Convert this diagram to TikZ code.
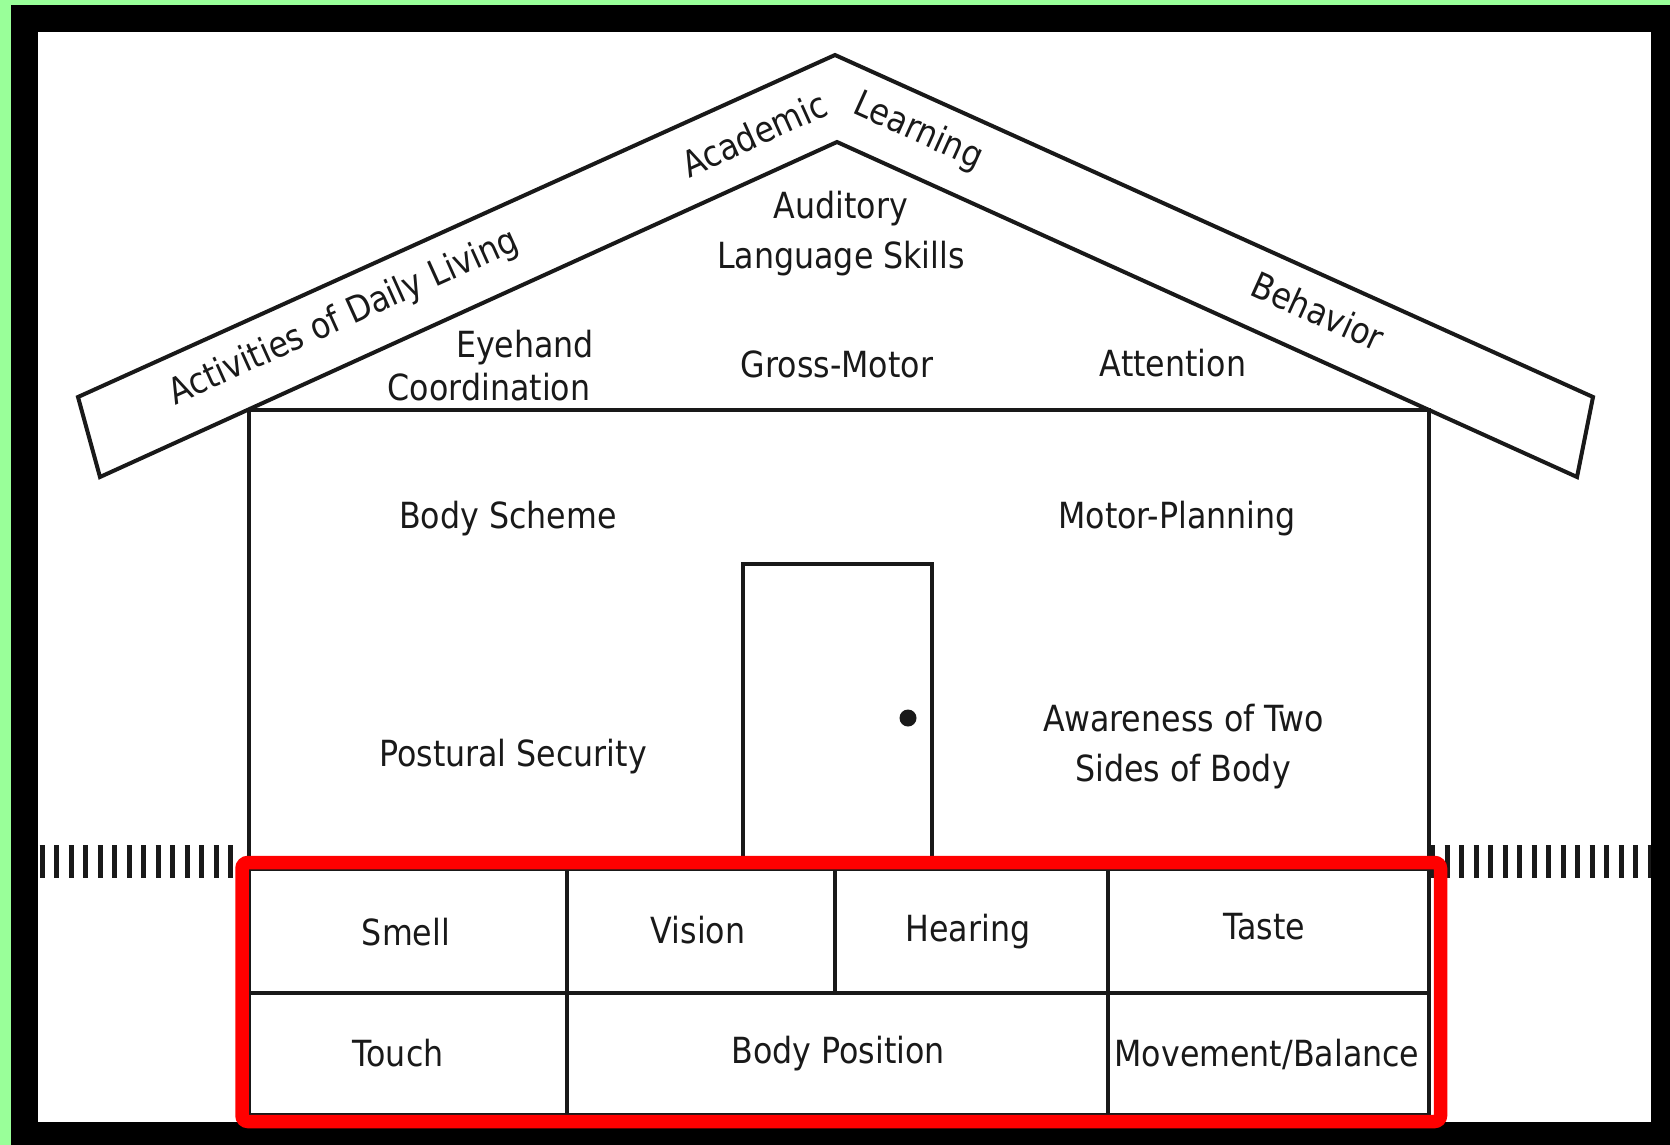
\documentclass[tikz,border=0pt]{standalone}
\usepackage{fontspec}
\setmainfont{DejaVu Sans}[FakeStretch=0.88]
\definecolor{framegreen}{RGB}{153,255,153}
\definecolor{inkgray}{RGB}{25,25,25}
\newcommand\lblfont{\fontsize{36}{43}\selectfont}
\begin{document}
\begin{tikzpicture}[x=1pt,y=-1pt,
  houseline/.style={draw=inkgray, line width=4pt, line join=miter},
  cellline/.style={draw=inkgray, line width=3.5pt},
  groundbars/.style={draw=inkgray, line width=33pt, dash pattern=on 5pt off 9.5pt},
  redframe/.style={draw=red, line width=13.5pt, rounded corners=6pt},
  lbl/.style={font=\lblfont, text=inkgray, inner sep=0pt, anchor=base, align=center},
  rooflbl/.style={font=\lblfont, text=inkgray, inner sep=0pt, anchor=center}]
\useasboundingbox (0,0) rectangle (1670,1145);
% frame
\fill[framegreen] (0,0) rectangle (1670,1145);
\fill[black] (11,5) rectangle (1670,1145);
\fill[white] (38,32) rectangle (1651,1122);
% ground
\draw[groundbars] (39.5,861.5) -- (236,861.5);
\draw[groundbars] (1430,861.5) -- (1651,861.5);
% roof
\draw[houseline, fill=white] (78,397) -- (835,55) -- (1593,397) -- (1577,477) -- (837,142) -- (100,477) -- cycle;
% house walls
\draw[houseline] (249,869) -- (249,410) -- (1429,410) -- (1429,869);
% door
\draw[houseline] (743,869) -- (743,564) -- (932,564) -- (932,869);
\fill[inkgray] (908,718) circle (8.5);
% senses table
\draw[cellline] (249,869) rectangle (1429,1115);
\draw[cellline] (249,993) -- (1429,993);
\draw[cellline] (567,869) -- (567,1115);
\draw[cellline] (835,869) -- (835,993);
\draw[cellline] (1108,869) -- (1108,1115);
\draw[redframe] (242,862.5) rectangle (1440.5,1121.5);
% roof labels
\node[rooflbl, rotate=24.3] (adl) at (344,318) {Activities of Daily Living};
\node[rooflbl, rotate=24.3] (acad) at (754,134) {Academic};
\node[rooflbl, rotate=-24.3] (learn) at (918,132) {Learning};
\node[rooflbl, rotate=-24.3] (behav) at (1318,311) {Behavior};
% attic labels
\node[lbl] (aud) at (841,218) {Auditory};
\node[lbl] (lang) at (841,268) {Language Skills};
\node[lbl] (eye) at (525,357) {Eyehand};
\node[lbl] (coord) at (489,400) {Coordination};
\node[lbl] (gross) at (837,377) {Gross-Motor};
\node[lbl] (attn) at (1173,376) {Attention};
% house labels
\node[lbl] (body) at (508,528) {Body Scheme};
\node[lbl] (motor) at (1177,528) {Motor-Planning};
\node[lbl] (post) at (513,766) {Postural Security};
\node[lbl] (aware) at (1184,731) {Awareness of Two};
\node[lbl] (sides) at (1183,781) {Sides of Body};
% senses
\node[lbl] (smell) at (406,945) {Smell};
\node[lbl] (vision) at (698,943) {Vision};
\node[lbl] (hear) at (968,941) {Hearing};
\node[lbl] (taste) at (1264,939) {Taste};
\node[lbl] (touch) at (398,1066) {Touch};
\node[lbl] (bpos) at (838,1063) {Body Position};
\node[lbl] (move) at (1267,1066) {Movement/Balance};
\end{tikzpicture}
\end{document}
